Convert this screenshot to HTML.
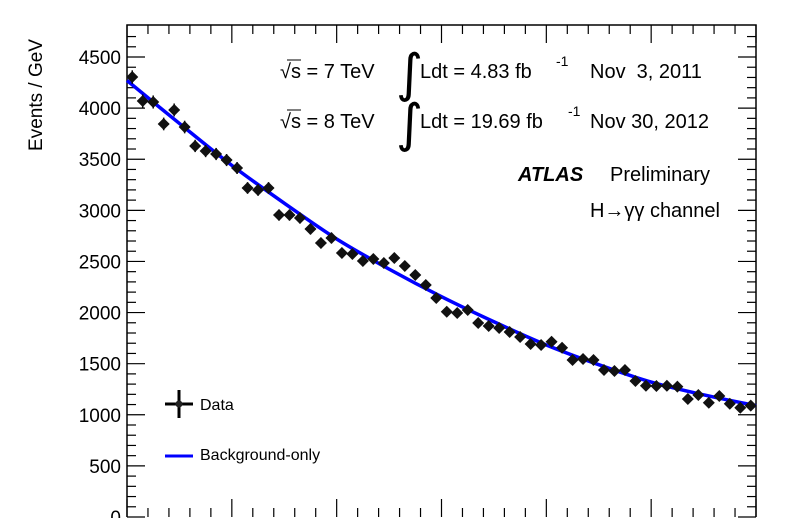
<!DOCTYPE html>
<html><head><meta charset="utf-8"><style>
body{margin:0;background:#fff;}
svg{display:block;font-family:"Liberation Sans",sans-serif;}
</style></head><body>
<svg id="chart" width="795" height="518" viewBox="0 0 795 518" xmlns="http://www.w3.org/2000/svg">
<rect x="0" y="0" width="795" height="518" fill="#fff"/>
<g id="axes"></g>
<g id="fit"></g>
<g id="pts"></g>
<text x="42" y="95" font-size="19" text-anchor="middle" transform="rotate(-90 42 95)">Events / GeV</text>
<g font-size="20">
<text x="280" y="78">√s = 7 TeV</text>
<line x1="287" y1="60" x2="301" y2="60" stroke="#000" stroke-width="1"/>
<text x="396" y="91" font-size="52" font-family="'DejaVu Sans',sans-serif">∫</text>
<text x="420" y="78">Ldt = 4.83 fb</text>
<text x="556" y="66" font-size="14">-1</text>
<text x="590" y="78" xml:space="preserve">Nov  3, 2011</text>
<text x="280" y="128">√s = 8 TeV</text>
<line x1="287" y1="110" x2="301" y2="110" stroke="#000" stroke-width="1"/>
<text x="396" y="141" font-size="52" font-family="'DejaVu Sans',sans-serif">∫</text>
<text x="420" y="128">Ldt = 19.69 fb</text>
<text x="568" y="116" font-size="14">-1</text>
<text x="590" y="128">Nov 30, 2012</text>
</g>
<text x="518" y="181" font-size="20" font-weight="bold" font-style="italic">ATLAS</text>
<text x="610" y="181" font-size="20">Preliminary</text>
<text x="720" y="217" font-size="20" text-anchor="end">H→γγ channel</text>
<g>
<g>
<line x1="165" y1="404" x2="193" y2="404" stroke="#000" stroke-width="3"/>
<line x1="179" y1="390" x2="179" y2="418" stroke="#000" stroke-width="3"/>
<circle cx="179" cy="404" r="3.5" fill="#222"/>
<text x="200" y="410" font-size="16">Data</text>
</g>
<g>
<line x1="165" y1="456" x2="193" y2="456" stroke="#0000ff" stroke-width="3"/>
<text x="200" y="460" font-size="16">Background-only</text>
</g>
</g>
</svg>
<script>
const masses = [];
for (let i = 0; i < 60; i++) masses.push(100.5 + i);
const events = [4304,4070,4060,3845,3982,3815,3630,3580,3551,3492,3414,3219,3199,3219,2954,2954,2925,2818,2680,2729,2583,2573,2504,2524,2485,2534,2456,2367,2270,2142,2008,1996,2025,1898,1868,1849,1810,1761,1692,1683,1715,1656,1536,1546,1536,1438,1428,1438,1330,1284,1281,1284,1275,1154,1194,1118,1184,1108,1069,1089];
const fitMasses = [100,105,110,115,120,125,130,135,140,145,150,155,160];
const fitValues = [4270,3850,3440,3070,2720,2425,2155,1910,1683,1490,1320,1195,1089];
const yTicks = [0,500,1000,1500,2000,2500,3000,3500,4000,4500];
const L=127,R=756,T=25,B=517;
const xs = m => L + (m-100)/60*(R-L);
const ys = v => B - v*0.10222;
const NS="http://www.w3.org/2000/svg";
function mk(tag, attrs, parent){const e=document.createElementNS(NS,tag);for(const k in attrs)e.setAttribute(k,attrs[k]);parent.appendChild(e);return e;}
const ax=document.getElementById('axes');
let f=mk('path',{d:`M${L},${B}V${T}H${R}V${B}`,fill:'none',stroke:'#000','stroke-width':1.5},ax);


for(let v=0;v<=4700;v+=100){
  const y=ys(v); if(y<T) break;
  const len = v%500===0?18:9;
  mk('line',{x1:L,y1:y,x2:L+len,y2:y,stroke:'#000','stroke-width':1.2},ax);
  mk('line',{x1:R,y1:y,x2:R-len,y2:y,stroke:'#000','stroke-width':1.2},ax);
}
for(const v of yTicks){
  const t=mk('text',{x:121,y:ys(v)+7,'font-size':19,'text-anchor':'end'},ax);
  t.textContent=v;
  
  
}
for(let m=100;m<=160;m+=2){
  const x=xs(m); const len=(m%10===0)?18:9;
  mk('line',{x1:x,y1:T,x2:x,y2:T+len,stroke:'#000','stroke-width':1.2},ax);
  mk('line',{x1:x,y1:B,x2:x,y2:B-len,stroke:'#000','stroke-width':1.2},ax);
}
const fg=document.getElementById('fit');
const P=fitMasses.map((m,i)=>[xs(m),ys(fitValues[i])]);
let d=`M${P[0][0]},${P[0][1]}`;
for(let i=0;i<P.length-1;i++){
  const p0=P[Math.max(0,i-1)],p1=P[i],p2=P[i+1],p3=P[Math.min(P.length-1,i+2)];
  d+=`C${p1[0]+(p2[0]-p0[0])/6},${p1[1]+(p2[1]-p0[1])/6} ${p2[0]-(p3[0]-p1[0])/6},${p2[1]-(p3[1]-p1[1])/6} ${p2[0]},${p2[1]}`;
}
const fp=mk('path',{d:d,fill:'none',stroke:'#0000ff','stroke-width':3.5},fg);


const pg=document.getElementById('pts');
masses.forEach((m,i)=>{
  const x=xs(m),y=ys(events[i]),e=Math.sqrt(events[i])*0.10222;
  const g=mk('g',{},pg);
  
  
  mk('line',{x1:x,y1:y-e,x2:x,y2:y+e,stroke:'#000','stroke-width':1.5},g);
  mk('line',{x1:x-5.2,y1:y,x2:x+5.2,y2:y,stroke:'#000','stroke-width':1.5},g);
  mk('path',{d:`M${x},${y-6}L${x+6},${y}L${x},${y+6}L${x-6},${y}Z`,fill:'#111'},g);
});
</script>
</body></html>
